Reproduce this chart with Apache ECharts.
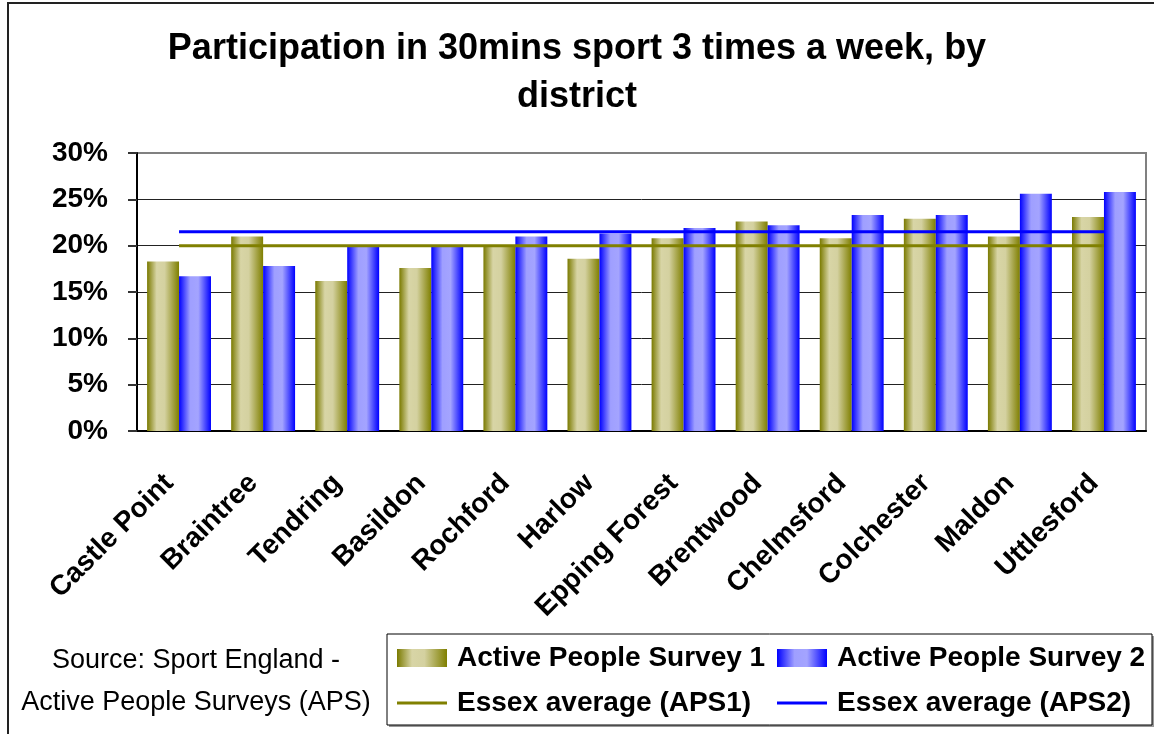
<!DOCTYPE html>
<html>
<head>
<meta charset="utf-8">
<script src="https://cdn.jsdelivr.net/npm/echarts@6/dist/echarts.min.js"></script>
<style>
  html, body { margin: 0; padding: 0; background: #fff; }
  #chart { width: 1154px; height: 734px; }
</style>
</head>
<body>
<div id="chart"></div>
<script>
// districts, in the order shown
var districts = ['Castle Point', 'Braintree', 'Tendring', 'Basildon', 'Rochford', 'Harlow',
  'Epping Forest', 'Brentwood', 'Chelmsford', 'Colchester', 'Maldon', 'Uttlesford'];
// participation, %
var aps1 = [18.3, 21.0, 16.2, 17.6, 19.9, 18.6, 20.8, 22.6, 20.8, 22.9, 21.0, 23.1];
var aps2 = [16.7, 17.8, 19.9, 19.9, 21.0, 21.3, 21.9, 22.2, 23.3, 23.3, 25.6, 25.8];
// Essex averages
var avg1 = [20.0, 20.0, 20.0, 20.0, 20.0, 20.0, 20.0, 20.0, 20.0, 20.0, 20.0, 20.0];
var avg2 = [21.5, 21.5, 21.5, 21.5, 21.5, 21.5, 21.5, 21.5, 21.5, 21.5, 21.5, 21.5];

var font = 'Liberation Sans, Arial, sans-serif';
var lineIcon = 'path://M0,0H50V3H0Z';

var oliveFill = new echarts.graphic.LinearGradient(0, 0, 1, 0, [
  { offset: 0, color: '#7a7a00' },
  { offset: 0.3, color: '#d8d5a6' },
  { offset: 0.55, color: '#d4d1a0' },
  { offset: 1, color: '#7f7f00' }
]);
var blueFill = new echarts.graphic.LinearGradient(0, 0, 1, 0, [
  { offset: 0, color: '#0000ff' },
  { offset: 0.35, color: '#9f9fff' },
  { offset: 0.6, color: '#a4a4ff' },
  { offset: 1, color: '#0000ff' }
]);

var legendText = { fontFamily: font, fontSize: 28, fontWeight: 'bold', color: '#000', lineHeight: 30, padding: [0, 0, 0, 5] };

var myChart = echarts.init(document.getElementById('chart'));
myChart.setOption({
  animation: false,
  title: {
    text: 'Participation in 30mins sport 3 times a week, by\ndistrict',
    left: 'center',
    top: 25,
    padding: 0,
    textStyle: {
      fontFamily: font,
      fontSize: 36,
      fontWeight: 'bold',
      color: '#000',
      lineHeight: 48
    }
  },
  grid: {
    left: 137,
    right: 8,
    top: 153,
    bottom: 303,
    show: true,
    borderColor: '#808080',
    borderWidth: 2
  },
  legend: [
    {
      orient: 'vertical',
      left: 397,
      top: 643,
      padding: 0,
      itemWidth: 50,
      itemHeight: 18,
      itemGap: 15,
      data: [{ name: 'Active People Survey 1', icon: 'rect' }, { name: 'Essex average (APS1)', icon: lineIcon }],
      textStyle: legendText
    },
    {
      orient: 'vertical',
      left: 777,
      top: 643,
      padding: 0,
      itemWidth: 50,
      itemHeight: 18,
      itemGap: 15,
      data: [{ name: 'Active People Survey 2', icon: 'rect' }, { name: 'Essex average (APS2)', icon: lineIcon }],
      textStyle: legendText
    }
  ],
  xAxis: {
    type: 'category',
    data: districts,
    axisLine: { lineStyle: { color: '#000', width: 2 } },
    axisTick: { length: 8, lineStyle: { color: '#333', width: 2 } },
    axisLabel: {
      interval: 0,
      rotate: 45,
      margin: 38,
      padding: [0, 14, 0, 0],
      fontFamily: font,
      fontSize: 28,
      fontWeight: 'bold',
      color: '#000'
    }
  },
  yAxis: {
    type: 'value',
    min: 0,
    max: 30,
    interval: 5,
    axisLine: { show: true, lineStyle: { color: '#000', width: 2 } },
    axisTick: { show: true, length: 9, lineStyle: { color: '#333', width: 2 } },
    axisLabel: {
      formatter: '{value}%',
      margin: 29,
      fontFamily: font,
      fontSize: 28,
      fontWeight: 'bold',
      color: '#000'
    },
    splitLine: {
      lineStyle: { color: ['#000', '#222', '#222', '#222', '#222', '#222', '#808080'], width: 1 }
    }
  },
  series: [
    {
      name: 'Active People Survey 1',
      type: 'bar',
      data: aps1,
      barGap: '0%',
      barCategoryGap: '24%',
      itemStyle: { color: oliveFill }
    },
    {
      name: 'Active People Survey 2',
      type: 'bar',
      data: aps2,
      barGap: '0%',
      barCategoryGap: '24%',
      itemStyle: { color: blueFill }
    },
    {
      name: 'Essex average (APS1)',
      type: 'line',
      data: avg1,
      symbol: 'none',
      color: '#808000',
      lineStyle: { color: '#808000', width: 3 },
      z: 5
    },
    {
      name: 'Essex average (APS2)',
      type: 'line',
      data: avg2,
      symbol: 'none',
      color: '#0000ff',
      lineStyle: { color: '#0000ff', width: 3 },
      z: 5
    }
  ],
  graphic: [
    // outer frame
    {
      type: 'rect',
      shape: { x: 8, y: 3, width: 1160, height: 740 },
      style: { fill: null, stroke: '#222', lineWidth: 2 },
      silent: true
    },
    // legend box + its shadow
    {
      type: 'rect',
      shape: { x: 389, y: 636, width: 765, height: 91 },
      style: { fill: '#999', stroke: null },
      silent: true
    },
    {
      type: 'rect',
      shape: { x: 387, y: 634, width: 765, height: 91 },
      style: { fill: '#fff', stroke: '#000', lineWidth: 1 },
      silent: true
    },
    {
      type: 'text',
      x: 196,
      y: 682,
      style: {
        text: 'Source: Sport England -\nActive People Surveys (APS)',
        align: 'center',
        verticalAlign: 'middle',
        fontFamily: font,
        fontSize: 27,
        lineHeight: 42,
        fill: '#000'
      },
      silent: true
    }
  ]
});
</script>
</body>
</html>
